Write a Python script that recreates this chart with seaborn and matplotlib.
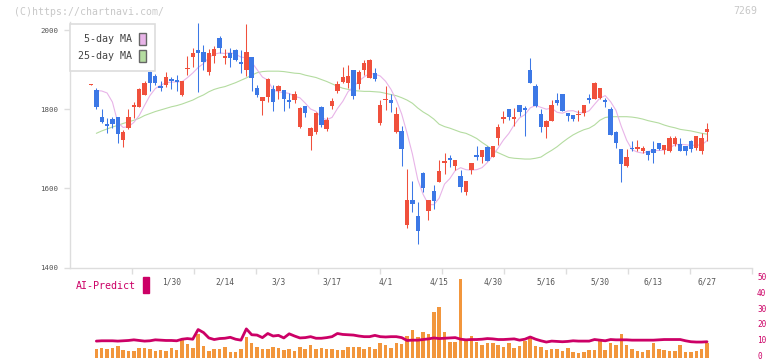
"""
Candlestick chart with 5/25-day moving averages and the AI-Predict panel.
Saves out.png (772x361).
"""

import numpy as np
import pandas as pd
import matplotlib
matplotlib.use("Agg")
import matplotlib.pyplot as plt
import matplotlib.transforms as mtransforms
from matplotlib.patches import Patch, Rectangle
import seaborn as sns

# ---- data (one entry per trading day, index 0 .. 115) ----
OPEN = [1862, 1848, 1779, 1762, 1775, 1779, 1722, 1752, 1806, 1805,
        1836, 1895, 1884, 1859, 1861, 1875, 1874, 1836, 1901, 1933,
        1950, 1944, 1895, 1934, 1979, 1930, 1943, 1950, 1918, 1899,
        1933, 1854, 1821, 1832, 1850, 1847, 1849, 1823, 1823, 1756,
        1808, 1731, 1743, 1805, 1749, 1809, 1846, 1868, 1867, 1899,
        1864, 1899, 1880, 1892, 1766, 1823, 1823, 1743, 1745, 1508,
        1571, 1530, 1640, 1544, 1593, 1617, 1663, 1676, 1657, 1630,
        1592, 1646, 1684, 1678, 1705, 1678, 1728, 1775, 1800, 1775,
        1811, 1802, 1899, 1859, 1788, 1756, 1769, 1823, 1838, 1791,
        1785, 1785, 1790, 1827, 1825, 1827, 1823, 1800, 1742, 1699,
        1656, 1701, 1699, 1694, 1694, 1699, 1715, 1697, 1695, 1712,
        1712, 1707, 1720, 1701, 1695, 1743]
HIGH = [1864, 1853, 1800, 1777, 1781, 1781, 1747, 1800, 1819, 1853,
        1870, 1897, 1889, 1870, 1893, 1882, 1886, 1870, 1934, 1954,
        2017, 1962, 1951, 1960, 1985, 1951, 1954, 1951, 1950, 2015,
        1933, 1861, 1830, 1878, 1861, 1861, 1849, 1842, 1846, 1805,
        1808, 1754, 1794, 1808, 1779, 1827, 1870, 1907, 1912, 1899,
        1899, 1924, 1926, 1905, 1823, 1859, 1838, 1805, 1758, 1649,
        1619, 1566, 1642, 1571, 1609, 1672, 1690, 1684, 1672, 1646,
        1619, 1663, 1707, 1697, 1707, 1707, 1763, 1796, 1800, 1802,
        1811, 1808, 1930, 1864, 1800, 1773, 1823, 1842, 1838, 1791,
        1785, 1798, 1811, 1838, 1868, 1853, 1827, 1805, 1745, 1699,
        1699, 1720, 1722, 1707, 1694, 1720, 1715, 1710, 1731, 1732,
        1726, 1707, 1722, 1732, 1739, 1766]
LOW = [1862, 1800, 1764, 1741, 1752, 1715, 1705, 1749, 1777, 1805,
       1836, 1847, 1861, 1847, 1857, 1850, 1847, 1833, 1886, 1907,
       1844, 1899, 1886, 1916, 1943, 1914, 1907, 1922, 1892, 1884,
       1846, 1832, 1785, 1819, 1795, 1825, 1796, 1802, 1815, 1752,
       1781, 1697, 1737, 1754, 1746, 1801, 1842, 1865, 1853, 1826,
       1850, 1886, 1878, 1870, 1760, 1798, 1794, 1741, 1657, 1499,
       1539, 1460, 1592, 1520, 1547, 1617, 1636, 1655, 1646, 1592,
       1582, 1636, 1672, 1665, 1670, 1678, 1710, 1766, 1773, 1758,
       1784, 1731, 1867, 1806, 1743, 1728, 1769, 1811, 1796, 1769,
       1769, 1769, 1783, 1816, 1825, 1825, 1806, 1735, 1703, 1617,
       1653, 1694, 1694, 1690, 1672, 1663, 1697, 1687, 1693, 1707,
       1695, 1684, 1693, 1697, 1687, 1720]
CLOSE = [1864, 1806, 1768, 1758, 1763, 1737, 1743, 1779, 1811, 1850,
         1865, 1867, 1867, 1854, 1882, 1872, 1869, 1870, 1905, 1941,
         1941, 1920, 1943, 1951, 1955, 1934, 1930, 1924, 1915, 1945,
         1880, 1836, 1830, 1876, 1819, 1859, 1826, 1819, 1838, 1802,
         1791, 1752, 1790, 1760, 1773, 1821, 1863, 1881, 1884, 1834,
         1893, 1916, 1924, 1875, 1811, 1826, 1815, 1788, 1699, 1571,
         1561, 1491, 1602, 1571, 1568, 1644, 1669, 1672, 1672, 1604,
         1619, 1663, 1678, 1697, 1670, 1707, 1756, 1781, 1779, 1779,
         1794, 1798, 1867, 1808, 1756, 1771, 1811, 1815, 1796, 1784,
         1775, 1787, 1811, 1823, 1865, 1853, 1819, 1735, 1714, 1662,
         1678, 1699, 1705, 1701, 1683, 1690, 1699, 1710, 1726, 1726,
         1695, 1695, 1699, 1732, 1726, 1750]

# 5-day MA before a full window exists (index 1..4)
MA5_HEAD = [1847, 1846, 1841, 1818]

# 25-day MA, index 1..115
MA25 = [1739, 1745, 1750, 1755, 1759, 1764, 1768, 1772, 1777, 1784,
        1789, 1794, 1798, 1802, 1806, 1809, 1813, 1818, 1823, 1830,
        1836, 1844, 1850, 1854, 1857, 1862, 1867, 1873, 1879, 1886,
        1892, 1895, 1896, 1896, 1896, 1895, 1893, 1891, 1890, 1886,
        1883, 1880, 1875, 1870, 1864, 1858, 1853, 1850, 1847, 1846,
        1845, 1845, 1844, 1843, 1840, 1837, 1834, 1829, 1823, 1815,
        1803, 1793, 1785, 1775, 1762, 1756, 1752, 1747, 1742, 1739,
        1733, 1726, 1716, 1707, 1697, 1690, 1684, 1678, 1676, 1675,
        1674, 1674, 1676, 1679, 1688, 1696, 1705, 1716, 1726, 1735,
        1742, 1748, 1752, 1760, 1772, 1779, 1781, 1781, 1781, 1781,
        1780, 1778, 1775, 1771, 1768, 1765, 1760, 1756, 1753, 1749,
        1747, 1745, 1742, 1739, 1737]

# AI-Predict panel, index 1..115
AI_BARS = [5.2, 5.8, 5.4, 5.8, 7.1, 4.6, 4.2, 4.2, 5.8, 5.8,
           5.2, 4.2, 4.6, 4.2, 6.2, 4.6, 10.8, 8.3, 6.2, 14.6,
           7.1, 3.9, 5.6, 5.2, 6.4, 3.3, 3.3, 5.2, 13.1, 8.9,
           6.9, 5.2, 5.2, 6.9, 5.8, 4.6, 5.6, 4.4, 6.9, 5.2,
           8.1, 5.6, 6.2, 5.2, 5.2, 4.8, 4.8, 6.9, 6.4, 6.4,
           5.6, 6.9, 5.2, 8.9, 7.7, 6.2, 8.9, 8.3, 13.5, 17.7,
           12.7, 16.0, 14.6, 28.5, 32.1, 16.0, 9.8, 9.8, 49.6, 10.6,
           13.5, 9.8, 7.7, 8.9, 8.9, 7.7, 6.4, 8.9, 6.0, 7.3,
           10.6, 12.3, 7.1, 6.4, 4.8, 5.4, 5.4, 3.9, 5.8, 3.5,
           3.1, 3.5, 4.6, 4.6, 10.2, 4.6, 9.4, 7.7, 14.6, 7.7,
           5.2, 3.9, 3.3, 4.6, 8.9, 5.2, 4.6, 3.9, 3.9, 7.7,
           3.3, 3.3, 3.9, 5.2, 8.9]
AI_LINE = [10.4, 10.6, 10.6, 10.6, 10.4, 10.6, 10.8, 11.2, 10.8, 10.4,
           10.6, 11.2, 11.0, 10.8, 10.8, 10.6, 11.6, 12.0, 11.6, 17.7,
           15.8, 12.4, 11.4, 12.0, 12.2, 12.8, 11.6, 11.0, 18.1, 14.4,
           14.2, 12.6, 15.2, 13.6, 14.0, 12.4, 15.0, 13.6, 12.4, 12.6,
           13.2, 12.2, 12.2, 12.6, 13.2, 15.2, 14.6, 14.4, 14.2, 13.6,
           13.2, 13.2, 14.0, 13.2, 13.0, 13.2, 13.2, 12.6, 10.8, 11.0,
           11.0, 11.4, 11.8, 12.4, 12.0, 12.2, 12.4, 12.6, 11.6, 11.2,
           11.4, 11.4, 11.6, 12.0, 11.8, 11.4, 11.4, 11.6, 11.8, 11.0,
           11.6, 13.0, 11.6, 10.6, 9.8, 10.4, 10.2, 10.0, 10.2, 10.6,
           10.4, 10.4, 10.4, 11.4, 11.0, 10.6, 11.4, 11.2, 11.2, 11.2,
           11.0, 11.0, 11.0, 11.0, 11.0, 11.2, 11.4, 11.4, 11.4, 11.4,
           10.6, 10.0, 9.8, 9.8, 10.0]

DATE_LABELS = ["1/30", "2/14", "3/3", "3/17", "4/1", "4/15",
               "4/30", "5/16", "5/30", "6/13", "6/27"]
DATE_IDX = [15, 25, 35, 45, 55, 65, 75, 85, 95, 105, 115]

UP, DOWN = "#f0503c", "#3c78e6"
PINK, GREEN = "#e8b4e8", "#b4dca0"
CRIMSON, ORANGE = "#cc0066", "#f2963c"
GRID = "#dddddd"
XLIM = (-3.92, 123.4)

W, H = 772, 361


def main():
    sns.set_theme(style="white")
    plt.rcParams["font.family"] = ["DejaVu Sans Mono"]

    o = np.array(OPEN, float)
    h = np.array(HIGH, float)
    l = np.array(LOW, float)
    c = np.array(CLOSE, float)
    idx = np.arange(len(c))
    later = np.arange(1, len(c))

    ma5 = pd.Series(c).rolling(5).mean()
    ma5.iloc[1:5] = MA5_HEAD

    fig = plt.figure(figsize=(W / 100, H / 100), dpi=100)
    fig.patch.set_facecolor("white")
    ax = fig.add_axes([70 / W, 1 - 267.5 / H, 682 / W, (267.5 - 22.1) / H])
    ax2 = fig.add_axes([70 / W, 1 - 357.6 / H, 682 / W, 79.3 / H])

    # moving averages behind the candles
    sns.lineplot(x=later, y=MA25, ax=ax, color=GREEN, linewidth=0.8, zorder=1)
    sns.lineplot(x=idx[1:], y=ma5.values[1:], ax=ax, color=PINK,
                 linewidth=0.8, zorder=1)

    # candles
    col = np.where(c >= o, UP, DOWN)
    ax.vlines(idx, l, h, colors=col, linewidth=0.75, zorder=2)
    body = np.abs(c - o)
    mid = (c + o) / 2
    hgt = np.maximum(body, 3.5)
    ax.bar(idx, hgt, bottom=mid - hgt / 2, width=0.82, color=col,
           linewidth=0, zorder=3)

    ax.set_xlim(*XLIM)
    ax.set_ylim(1400, 2020)
    ax.set_xlabel("")
    ax.set_ylabel("")
    for s in ("top", "right"):
        ax.spines[s].set_visible(False)
    for s in ("left", "bottom"):
        ax.spines[s].set_color(GRID)
        ax.spines[s].set_linewidth(1)

    ax.set_yticks([1400, 1600, 1800, 2000])
    ax.tick_params(axis="y", left=True, length=4.3, width=1, color=GRID,
                   labelsize=5.4, labelcolor="#555555", pad=4.3)
    ax.set_xticks(DATE_IDX, DATE_LABELS)
    ax.set_xticks(np.linspace(XLIM[0], XLIM[1], 12)[1:], minor=True)
    ax.tick_params(axis="x", which="major", bottom=True, length=0, pad=7.4,
                   labelsize=5.7, labelcolor="#555555")
    ax.tick_params(axis="x", which="minor", bottom=True, length=4.3,
                   width=1, color=GRID)

    handles = [Patch(facecolor=PINK, edgecolor="#666666", label="5-day MA"),
               Patch(facecolor=GREEN, edgecolor="#666666", label="25-day MA")]
    leg = ax.legend(handles=handles, loc="upper left",
                    bbox_to_anchor=(0, 1 - 2 / 245.4),
                    borderaxespad=0, markerfirst=False, fontsize=7.2,
                    handlelength=0.7, handleheight=1.5, handletextpad=0.65,
                    labelspacing=0.5, borderpad=0.85, frameon=True,
                    fancybox=False, framealpha=1, edgecolor=GRID)
    leg.get_frame().set_linewidth(1.2)
    for t in leg.get_texts():
        t.set_color("#444444")

    # AI-Predict panel
    sns.barplot(x=later, y=AI_BARS, ax=ax2, native_scale=True, color=ORANGE,
                saturation=1, width=0.66, errorbar=None, linewidth=0,
                zorder=1)
    sns.lineplot(x=later, y=AI_LINE, ax=ax2, color=CRIMSON, linewidth=2.0,
                 zorder=2)
    ax2.set_xlim(*XLIM)
    ax2.set_ylim(0, 50)
    ax2.set_xlabel("")
    ax2.set_ylabel("")
    ax2.set_xticks([])
    for s in ax2.spines.values():
        s.set_visible(False)
    ax2.patch.set_alpha(0)
    ax2.yaxis.tick_right()
    ax2.set_yticks(range(0, 51, 10))
    ax2.tick_params(axis="y", right=True, left=False, length=0, pad=3.6,
                    labelsize=5.6, labelcolor=CRIMSON)
    # nudge the right-hand labels up a touch so "0" stays inside the figure
    lift = mtransforms.ScaledTranslation(0, 0.02, fig.dpi_scale_trans)
    for lab in ax2.get_yticklabels():
        lab.set_transform(lab.get_transform() + lift)

    fig.text(76 / W, 1 - 286 / H, "AI-Predict", color=CRIMSON, fontsize=7.2,
             va="center", ha="left")
    fig.patches.append(Rectangle((142.7 / W, 1 - 293 / H), 6 / W, 16 / H,
                                 transform=fig.transFigure, color=CRIMSON))

    fig.text(14 / W, 1 - 12.3 / H, "(C)https://chartnavi.com/",
             color="#c8c8c8", fontsize=7.1, va="center", ha="left")
    fig.text(757 / W, 1 - 11 / H, "7269", color="#c8c8c8", fontsize=7.1,
             va="center", ha="right")

    fig.savefig("out.png", dpi=100)
    plt.close(fig)


if __name__ == "__main__":
    main()
